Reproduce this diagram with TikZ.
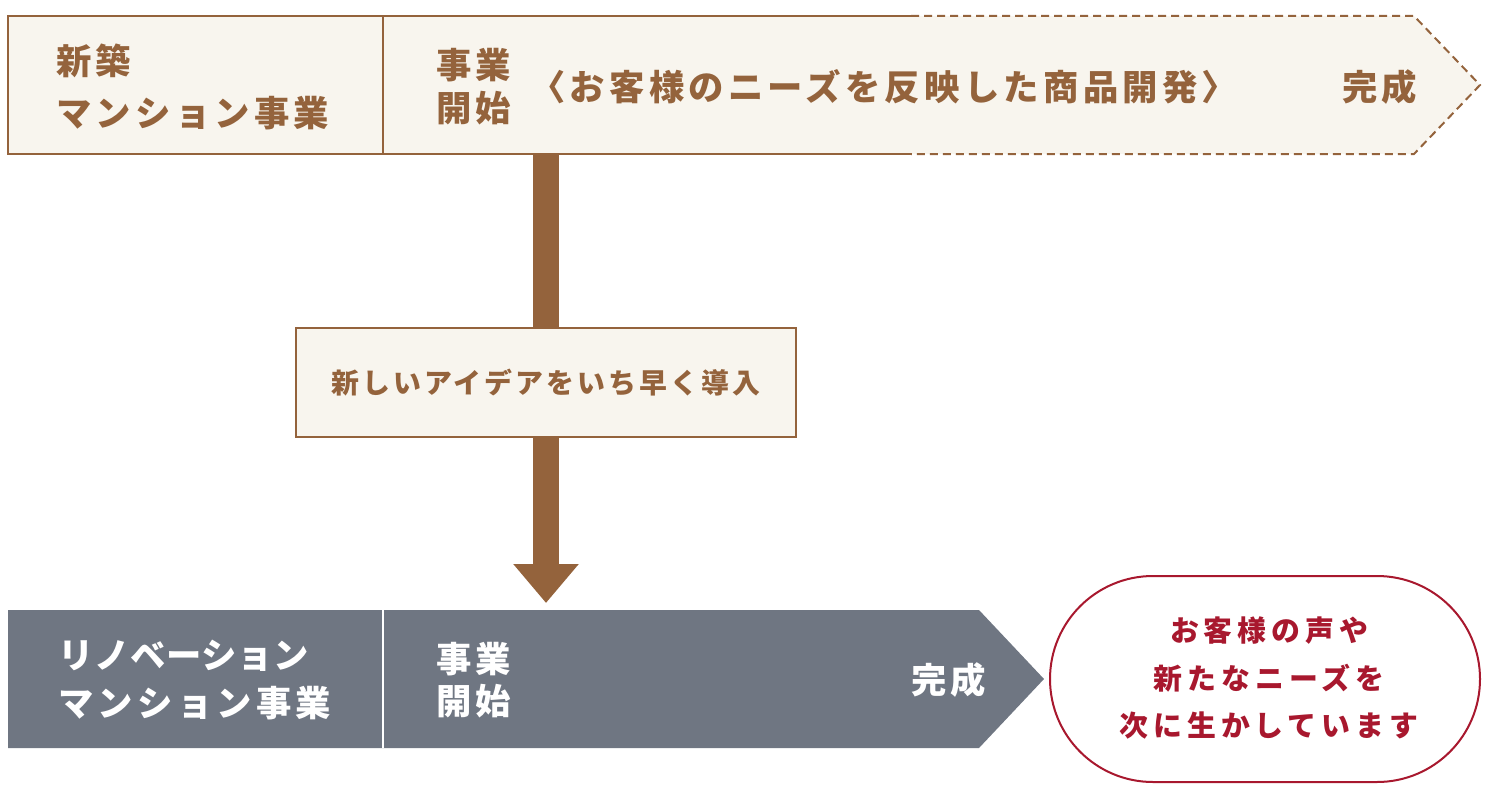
\documentclass[tikz,border=0pt]{standalone}
\usepackage{fontspec}
\setmainfont{Noto Sans CJK JP}
\newfontfamily\headfont{Noto Sans CJK JP}[LetterSpace=12]
\newfontfamily\tightfont{Noto Sans CJK JP}[LetterSpace=2]
\newfontfamily\ideafont{Noto Sans CJK JP}[LetterSpace=11]
\newfontfamily\voicefont{Noto Sans CJK JP}[LetterSpace=17]
\usetikzlibrary{arrows.meta}
\definecolor{brn}{HTML}{94633C}
\definecolor{beige}{HTML}{F8F5EE}
\definecolor{slate}{HTML}{6F7682}
\definecolor{wine}{HTML}{A8182E}
\pgfdeclarelayer{bg}
\pgfsetlayers{bg,main}
\begin{document}
\begin{tikzpicture}[x=1bp,y=-1bp,
  edge/.style={line width=2bp},
  headtext/.style={font=\headfont\bfseries\fontsize{35.5}{53}\selectfont, align=left, inner sep=0pt, anchor=west},
  stagetext/.style={font=\headfont\bfseries\fontsize{35.5}{43}\selectfont, align=left, inner sep=0pt, anchor=west},
  ideabox/.style={draw=brn, fill=beige, line width=2bp, minimum width=500bp, minimum height=109bp, inner sep=0pt,
    font=\ideafont\bfseries\fontsize{28}{34}\selectfont, text=brn},
  voicebox/.style={draw=wine, fill=white, line width=2bp, rounded corners=103bp, minimum width=430bp, minimum height=206bp},
  voicetext/.style={font=\voicefont\bfseries\fontsize{29}{47.5}\selectfont, align=center, text=wine, inner sep=0pt},
  bigarrow/.style={brn, line width=26bp}
]
\useasboundingbox (0,0) rectangle (1491,799);
% top band
\fill[beige] (8,16) -- (1414,16) -- (1480,85) -- (1414,154) -- (8,154) -- cycle;
\draw[brn, edge] (911,16) -- (8,16) -- (8,154) -- (911,154);
\draw[brn, edge, dash pattern=on 8bp off 5bp] (911,16) -- (1414,16) -- (1480,85) -- (1414,154) -- (911,154);
\draw[brn, edge] (383,16) -- (383,154);
\node[headtext, text=brn] (newname) at (56,87) {新築\\マンション事業};
\node[stagetext, text=brn] (newstart) at (436,87) {事業\\開始};
\node[headtext, text=brn] (newdev) at (530,87) {〈お客様のニーズを反映した商品開発〉};
\node[headtext, text=brn] (newdone) at (1342,87) {完成};
% bottom band
\fill[slate] (8,610) -- (979,610) -- (1044,679) -- (979,748) -- (8,748) -- cycle;
\draw[white, edge] (383,610) -- (383,748);
\node[headtext, text=white, font=\headfont\bfseries\fontsize{35.5}{48}\selectfont] (reno) at (58,680) {{\tightfont リノベーション}\\マンション事業};
\node[stagetext, text=white, font=\headfont\bfseries\fontsize{35.5}{42}\selectfont] (renostart) at (436,680) {事業\\開始};
\node[headtext, text=white] (renodone) at (911,680) {完成};
% voice
\node[voicebox] (voice) at (1265,679) {};
\node[voicetext] (voicetxt) at (1269,678) {お客様の声や\\新たなニーズを\\次に生かしています};
% idea box and arrow
\node[ideabox] (idea) at (546,382.5) {新しいアイデアをいち早く導入};
\coordinate (arrowtop) at (546,154);
\coordinate (arrowend) at (546,603);
\begin{pgfonlayer}{bg}
\draw[bigarrow] (arrowtop) -- (idea.north);
\draw[bigarrow, -{Triangle[length=39bp,width=63bp]}] (idea.south) -- (arrowend);
\end{pgfonlayer}
\end{tikzpicture}
\end{document}
